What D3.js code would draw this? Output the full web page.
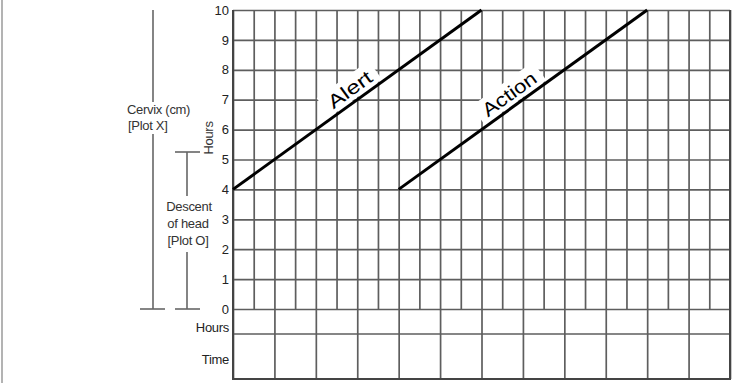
<!DOCTYPE html>
<html>
<head>
<meta charset="utf-8">
<script src="https://cdn.jsdelivr.net/npm/d3@7"></script>
<style>
  body { margin: 0; background: #fff; }
  svg { display: block; }
</style>
</head>
<body>
<div class="center"></div>
<script>
// partograph grid - cervix dilatation vs hours

const W = 733, H = 383;

// data
const cervixTicks = [0, 1, 2, 3, 4, 5, 6, 7, 8, 9, 10];
const halfHourTicks = [0, 0.5, 1, 1.5, 2, 2.5, 3, 3.5, 4, 4.5, 5, 5.5, 6, 6.5, 7, 7.5, 8, 8.5, 9, 9.5, 10, 10.5, 11, 11.5, 12];
const hourTicks = [0, 1, 2, 3, 4, 5, 6, 7, 8, 9, 10, 11, 12];
const alertLine = [{h: 0, cm: 4}, {h: 6, cm: 10}];
const actionLine = [{h: 4, cm: 4}, {h: 10, cm: 10}];
const rowLabels = ["Hours", "Time"];

// scales
const x = d3.scaleLinear().domain([0, 12]).range([233, 730]);
const y = d3.scaleLinear().domain([0, 10]).range([309, 10]);
const rowTop = 309, rowMid = 334, rowBottom = 379;

const svg = d3.select(".center").append("svg")
    .attr("width", W)
    .attr("height", H)
    .style("font-family", "'Liberation Sans', Arial, sans-serif");

const gridColor = "#5e5e5e";

// far left border
svg.append("line")
   .attr("x1", 2).attr("x2", 2).attr("y1", 0).attr("y2", H)
   .attr("stroke", "#9a9a9a").attr("stroke-width", 1.5);

// vertical grid (half hours)
const xGrid = svg.append("g")
   .attr("transform", `translate(0,${y(0)})`)
   .call(d3.axisBottom(x).tickValues(halfHourTicks).tickSize(-(y(0) - y(10))).tickFormat(""));
xGrid.select(".domain").remove();
xGrid.selectAll("line").attr("stroke", gridColor).attr("stroke-width", 1.7);

// horizontal grid + cervix labels
const yGrid = svg.append("g")
   .attr("transform", `translate(${x(0)},0)`)
   .call(d3.axisLeft(y).tickValues(cervixTicks).tickSize(-(x(12) - x(0))).tickPadding(4).tickFormat(d3.format("d")));
yGrid.select(".domain").remove();
yGrid.selectAll("line").attr("stroke", gridColor).attr("stroke-width", 1.7);
yGrid.selectAll("text")
   .style("font-family", "'Liberation Sans', Arial, sans-serif")
   .style("font-size", "13px")
   .attr("fill", "#222");

// hours / time rows
const rowGrid = svg.append("g")
   .attr("transform", `translate(0,${rowBottom})`)
   .call(d3.axisBottom(x).tickValues(hourTicks).tickSize(-(rowBottom - rowTop)).tickFormat(""));
rowGrid.select(".domain").remove();
rowGrid.selectAll("line").attr("stroke", gridColor).attr("stroke-width", 1.7);

svg.append("line")
   .attr("x1", x(0)).attr("x2", x(12)).attr("y1", rowMid).attr("y2", rowMid)
   .attr("stroke", gridColor).attr("stroke-width", 1.7);

// outer frame
svg.append("path")
   .attr("d", `M${x(0)},${y(10)} L${x(0)},${rowBottom} L${x(12)},${rowBottom} L${x(12)},${y(10)}`)
   .attr("fill", "none").attr("stroke", "#444").attr("stroke-width", 2);

svg.selectAll(".row-label")
   .data(rowLabels)
   .enter().append("text")
   .attr("class", "row-label")
   .attr("x", 229)
   .attr("y", (d, i) => i === 0 ? 332 : 364)
   .attr("text-anchor", "end")
   .style("font-size", "13px")
   .attr("fill", "#222")
   .attr("letter-spacing", "-0.3")
   .text(d => d);

// Alert / Action lines with labels
const ang = Math.atan2(y(10) - y(4), x(6) - x(0)) * 180 / Math.PI;
const lineGen = d3.line().x(d => x(d.h)).y(d => y(d.cm));

function label(h, cm, len) {
  const g = svg.append("g")
     .attr("transform", `translate(${x(h)},${y(cm)}) rotate(${ang})`);
  g.append("rect")
     .attr("x", -len / 2 - 7).attr("y", -25)
     .attr("width", len + 14).attr("height", 23)
     .attr("fill", "#fff");
  return g;
}

const alertG = label(3.0, 7.0, 50);
const actionG = label(6.85, 6.85, 62);

[alertLine, actionLine].forEach(d => {
  svg.append("path")
     .attr("d", lineGen(d))
     .attr("fill", "none")
     .attr("stroke", "#000")
     .attr("stroke-width", 3);
});

[[alertG, "Alert", 50], [actionG, "Action", 62]].forEach(([g, t, len]) => {
  g.append("text")
   .attr("x", 0).attr("y", -6)
   .attr("text-anchor", "middle")
   .attr("textLength", len)
   .attr("lengthAdjust", "spacingAndGlyphs")
   .style("font-size", "19px")
   .attr("fill", "#000")
   .text(t);
});

// left annotations
const ann = svg.append("g").attr("stroke", "#666").attr("stroke-width", 1.6);
// cervix bar
ann.append("line").attr("x1", 153).attr("x2", 153).attr("y1", y(10)).attr("y2", 102);
ann.append("line").attr("x1", 153).attr("x2", 153).attr("y1", 134).attr("y2", y(0));
ann.append("line").attr("x1", 140).attr("x2", 165).attr("y1", y(0)).attr("y2", y(0));
// descent bar
ann.append("line").attr("x1", 187).attr("x2", 187).attr("y1", 152).attr("y2", 196);
ann.append("line").attr("x1", 187).attr("x2", 187).attr("y1", 252).attr("y2", y(0));
ann.append("line").attr("x1", 175).attr("x2", 200).attr("y1", 152).attr("y2", 152);
ann.append("line").attr("x1", 175).attr("x2", 200).attr("y1", y(0)).attr("y2", y(0));

const annText = svg.append("g").style("font-size", "13px").attr("fill", "#333").attr("letter-spacing", "-0.3");
annText.append("text").attr("x", 127).attr("y", 114).text("Cervix (cm)");
annText.append("text").attr("x", 128).attr("y", 130).text("[Plot X]");
annText.append("text").attr("x", 189).attr("y", 211).attr("text-anchor", "middle").text("Descent");
annText.append("text").attr("x", 188).attr("y", 228).attr("text-anchor", "middle").text("of head");
annText.append("text").attr("x", 188).attr("y", 245).attr("text-anchor", "middle").text("[Plot O]");

// rotated "Hours"
svg.append("text")
   .attr("transform", "translate(213,138) rotate(-90)")
   .attr("text-anchor", "middle")
   .style("font-size", "13px")
   .attr("fill", "#333")
   .attr("letter-spacing", "-0.3")
   .text("Hours");
</script>
</body>
</html>
